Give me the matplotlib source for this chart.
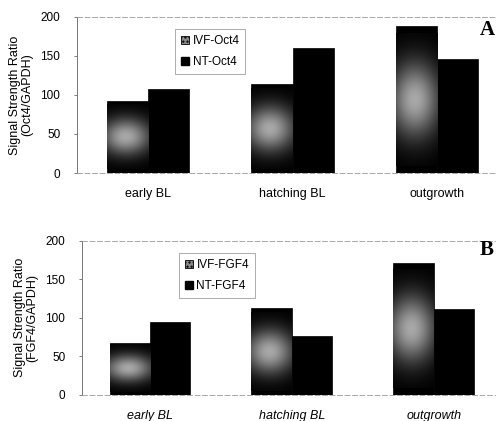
import numpy as np
import matplotlib.pyplot as plt
from matplotlib.patches import Patch

plt.rcParams['font.family'] = ['Liberation Sans', 'DejaVu Sans']

# data
stages = ['early BL', 'hatching BL', 'outgrowth']
ivf_oct4 = [92, 114, 188]
nt_oct4 = [107, 160, 146]
ivf_fgf4 = [68, 113, 171]
nt_fgf4 = [94, 77, 112]
yticks = [0, 50, 100, 150, 200]

fig = plt.figure(figsize=(5.03, 4.21), dpi=100)
axA = fig.add_axes([0.153, 0.589, 0.831, 0.371])
axB = fig.add_axes([0.163, 0.062, 0.821, 0.366])

cmap = plt.matplotlib.colors.LinearSegmentedColormap.from_list('scan', ['black', '#a8a8a8'])
yy, xx = np.mgrid[0:1:120j, 0:1:60j]
blob = np.exp(-((xx - 0.45) / 0.6) ** 2 - ((yy - 0.5) / 0.28) ** 2)


def panel(ax, ivf, nt, names, ylab, letter, ypos, xlim, italic):
    x = np.arange(len(stages))
    w = 0.285
    bars = ax.bar(x - w / 2, ivf, w, color='black', edgecolor='black', lw=0.5)
    ax.bar(x + w / 2, nt, w, color='black', edgecolor='black', lw=0.5)
    for b in bars:
        x0 = b.get_x()
        h = b.get_height()
        im = ax.imshow(blob, cmap=cmap, vmin=0, vmax=1, origin='lower', aspect='auto',
                       extent=[x0, x0 + b.get_width(), 0.05 * h, 0.95 * h],
                       interpolation='bilinear', zorder=3)
        im.set_clip_path(b)
    ax.set_xlim(*xlim)
    ax.set_ylim(0, 200)
    ax.set_yticks(yticks)
    ax.set_xticks(x)
    ax.set_xticklabels(stages, style='italic' if italic else 'normal')
    ax.tick_params(axis='x', length=0, pad=11, labelsize=9)
    ax.tick_params(axis='y', length=2, width=0.6, color='#666', pad=10, labelsize=8.5)
    ax.set_ylabel(ylab, fontsize=9, labelpad=5, linespacing=1.05)
    ax.spines['right'].set_visible(False)
    ax.spines['left'].set_color('#777')
    ax.spines['left'].set_linewidth(0.7)
    for s in ['top', 'bottom']:
        ax.spines[s].set_color('#999')
        ax.spines[s].set_linestyle((0, (6, 3)))
        ax.spines[s].set_linewidth(0.6)
    handles = [Patch(facecolor='#8a8a8a', edgecolor='black', hatch='....', lw=0.6),
               Patch(facecolor='black', edgecolor='black')]
    leg = ax.legend(handles, names, loc='upper left', bbox_to_anchor=(0.22, 0.96),
                    fontsize=8.5, frameon=True, fancybox=False, handlelength=0.7,
                    handleheight=0.7, handletextpad=0.3, borderpad=0.5, labelspacing=0.8)
    leg.get_frame().set_edgecolor('#888')
    leg.get_frame().set_linewidth(0.6)
    fig.text(0.953, ypos, letter, fontsize=15, fontweight='bold',
             family='Liberation Serif', ha='left', va='center')


panel(axA, ivf_oct4, nt_oct4, ['IVF-Oct4', 'NT-Oct4'],
      'Signal Strength Ratio\n(Oct4/GAPDH)', 'A', 0.929, (-0.491, 2.40), False)
panel(axB, ivf_fgf4, nt_fgf4, ['IVF-FGF4', 'NT-FGF4'],
      'Signal Strength Ratio\n(FGF4/GAPDH)', 'B', 0.406, (-0.479, 2.43), True)

fig.savefig('out.png', dpi=100)
